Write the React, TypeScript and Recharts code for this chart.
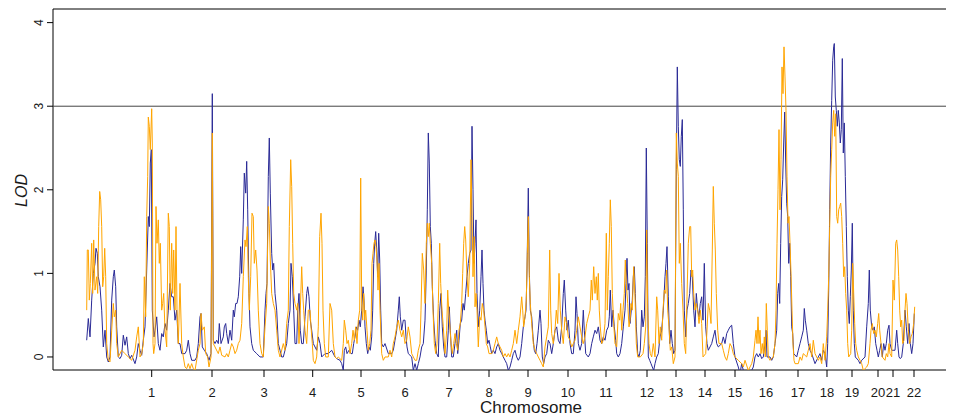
import React from 'react';
import { LineChart, Line, XAxis, YAxis, ReferenceLine, ReferenceArea } from 'recharts';

// chromosome labels and their mid positions along the genome axis
const CHR_LABELS = ['1', '2', '3', '4', '5', '6', '7', '8', '9', '10', '11', '12', '13', '14', '15', '16', '17', '18', '19', '20', '21', '22'];
const CHR_MID = [98.7, 159, 211, 259.7, 308, 352, 396, 436, 475, 515, 553, 594, 623, 652, 682, 713, 745, 774, 799, 825, 840, 861];
const LOD_TICKS = [0, 1, 2, 3, 4];
const THRESHOLD = 3;

// [genome position, LOD]
const blueLod: [number, number][] = [
  [33.7, 0.2], [35.3, 0.46], [37, 0.24], [38.7, 0.68], [40.3, 1.0], [42, 1.12], [43, 1.3], [44.3, 1.24], [45.3, 0.96], [47, 0.84],
  [48.7, 0.56], [50.3, 0.12], [52, 0.32], [53.7, 0.0], [55.3, -0.06], [57, 0.0], [58.7, 0.68], [60.3, 0.96], [61.3, 1.04], [62.7, 0.84],
  [63.7, 0.36], [65.3, 0.0], [67, -0.02], [68.7, 0.02], [70.3, 0.26], [72, 0.14], [73.7, 0.24], [75.3, 0.04], [77, -0.02], [78.7, 0.02],
  [82, -0.08], [83.7, 0.0], [85.3, 0.16], [87, 0.08], [88.7, 0.02], [90.3, 0.2], [92, 0.36], [93.7, 1.04], [95.3, 1.68], [96.3, 1.56],
  [97.3, 2.32], [98.3, 2.48], [99.3, 0.56], [101, 0.24], [102, 0.32], [103.7, 0.48], [105.3, 0.16], [107, 0.08], [108.7, 0.28], [110.3, 0.24],
  [112, 0.4], [113.7, 0.32], [115.3, 0.56], [117, 0.88], [118.7, 0.72], [120.3, 0.72], [122, 0.44], [123.7, 0.56], [125.3, 0.16], [127, 0.16],
  [128.7, 0.04], [132, 0.04], [133.7, 0.08], [135.3, 0.2], [137, 0.04], [138.7, -0.04], [142, -0.04],
  [143.7, 0.0], [145.3, 0.16], [147, 0.48], [148, 0.52], [149.3, 0.12], [151.3, 0.08], [153.7, 0.04], [156, -0.04], [158, 0.04], [159.3, 3.15],
  [160.3, 0.2], [162, 0.16], [163.7, 0.2], [165.3, 0.16], [166.3, 0.4], [168, 0.16], [170.3, 0.24], [171.3, 0.36], [172.7, 0.4], [173.7, 0.28],
  [175.3, 0.16], [177, 0.32], [178.7, 0.2], [180.3, 0.56], [181.3, 0.48], [182.7, 0.64], [184, 0.64], [185.3, 0.72], [186.7, 0.96], [187.7, 1.32],
  [188.7, 1.0], [190.3, 1.64], [191.3, 2.2], [192.7, 1.96], [193.7, 2.34], [194.7, 1.76], [196, 0.76], [197, 0.36], [198.7, 0.16], [200.3, 0.08],
  [203.7, 0.04], [207, 0.0], [210.3, 0.0], [212, 0.56], [213, 0.76], [214, 0.88], [215.3, 2.16], [216.3, 2.62], [217.3, 1.96], [218.7, 1.24],
  [219.7, 1.04], [220.7, 1.12], [222, 0.76], [223.7, 0.56], [225.3, 0.16], [227, 0.08], [228.7, 0.0], [230.3, 0.0], [232, 0.08], [233.7, 0.16],
  [235.3, 0.4], [237, 0.56], [238, 1.12], [239.3, 0.96], [240.7, 0.56], [242, 0.16], [243.7, 0.16], [244.7, 0.56], [246, 0.76], [247.3, 0.32],
  [248.7, 0.16], [250.3, 0.16], [252, 0.48], [253.7, 0.76], [254.7, 0.84], [256, 0.72], [257.3, 0.44], [258.7, 0.32], [260.3, 0.16], [263.7, 0.08],
  [265.3, 0.24], [267, 0.16], [268.7, 0.0], [272, 0.04], [275.3, 0.04], [278.7, 0.08], [282, 0.0],
  [283.7, -0.02], [287, -0.04], [288.7, -0.08], [290.3, -0.16], [291.3, 0.08], [292.7, 0.12], [294, 0.04], [296, 0.08], [298, 0.04], [299.3, 0.04],
  [300.7, 0.16], [302, 0.24], [303.3, 0.36], [304.7, 0.32], [306, 0.44], [307.3, 0.36], [308.7, 0.56], [310, 0.84], [311, 0.68], [312, 0.36],
  [313.3, 0.16], [314.7, 0.04], [316, 0.12], [317.3, 0.08], [318.7, 0.24], [319.7, 0.56], [320.7, 1.12], [321.7, 1.36], [322.7, 1.5], [323.7, 1.28],
  [324.7, 0.96], [325.7, 1.48], [326.7, 1.16], [327.7, 0.56], [328.7, 0.16], [330.3, 0.12], [332, 0.16], [335.3, 0.04], [338.7, 0.04], [340.3, 0.08],
  [342, 0.2], [343.7, 0.32], [345.3, 0.56], [346.3, 0.72], [347.3, 0.48], [348.7, 0.32], [350.3, 0.44], [352, 0.44], [353, 0.24], [354, 0.12],
  [355.3, 0.04], [358.7, 0.0], [360.3, -0.16], [362, -0.08], [363.7, -0.16], [365.3, -0.08], [367, 0.0], [368.7, 0.12], [370.3, 0.16], [372, 0.44],
  [373.3, 1.04], [374.3, 1.76], [375.3, 2.68], [376.3, 2.32], [377.3, 1.56], [378.3, 1.36], [379.3, 0.84], [380.7, 0.44], [382, 0.2], [383.7, 0.04],
  [385.3, 0.0], [386.7, 0.56], [388, 0.76], [389.3, 0.36], [390.7, 0.12], [392, 0.0], [393.7, 0.0], [395.3, 0.32], [396.3, 0.6], [397.3, 0.32],
  [398.7, 0.0], [400.3, 0.0], [402, 0.16], [403.7, 0.32], [404.7, 0.04], [406, 0.2], [407.3, 0.4], [408.7, 0.44], [410, 0.64], [411.3, 0.56],
  [412.7, 0.76], [414, 0.96], [415.3, 1.12], [416.7, 1.24], [418, 1.28], [419, 2.76], [420, 2.0], [421, 1.12], [422, 1.36],
  [423, 1.64], [424, 0.76], [425.3, 0.36], [426.7, 0.56], [428, 0.96], [429, 1.28], [430, 0.88], [431, 0.56], [432, 0.44], [433.3, 0.32],
  [434.7, 0.16], [436, 0.2], [437.3, 0.12], [438.7, 0.04], [440.3, 0.08], [442, 0.04], [443.7, 0.12], [445.3, 0.16], [447, 0.08], [448.7, 0.04],
  [450.3, 0.0], [452, -0.04], [453.7, -0.08], [455.3, -0.16], [457, -0.12], [458.7, -0.04], [460.3, 0.04], [462, 0.08], [463.7, 0.0], [465.3, -0.04],
  [467, 0.0], [468.7, 0.16], [470.3, 0.36], [472, 0.48], [473, 0.56], [474, 1.04], [475.3, 2.02], [476.3, 1.04], [477.3, 0.56], [478.7, 0.48],
  [480, 0.24], [481.3, 0.08], [482.7, 0.04], [484, 0.16], [485.3, 0.32], [487, 0.56], [488, 0.4], [489.3, 0.0], [490.7, -0.08], [492, 0.0],
  [493.7, 0.04], [495.3, 0.2], [497, 0.16], [498.7, 0.04], [500.3, 0.16], [502, 0.32], [503.7, 0.36], [505.3, 0.2], [507, 0.16], [508.7, 0.36],
  [510.3, 0.76], [511.3, 0.92], [512.7, 0.56], [514, 0.32], [515.3, 0.44], [517, 0.16], [518.7, 0.04], [520.3, 0.04], [522, 0.32], [523, 0.72],
  [524, 0.52], [525.3, 0.16], [527, 0.08], [528.7, 0.16], [530.3, 0.56], [531.3, 0.32], [532.7, 0.04], [535.3, 0.0], [537, 0.04], [538.7, 0.16],
  [540.3, 0.24], [542, 0.32], [543.7, 0.28], [545.3, 0.36], [547, 0.2], [548.7, 0.16], [550.3, 0.24], [552, 0.2], [553.7, 0.32], [555.3, 0.36],
  [556.3, 0.48], [557.3, 0.8], [558.7, 0.36], [560, 0.56], [561.3, 0.36], [562.7, 0.2],
  [563.7, 0.04], [565.3, 0.0], [567, 0.04], [568.7, 0.16], [570.3, 0.36], [572, 0.56], [573, 0.88], [574, 1.18], [575, 0.8], [576, 0.88],
  [577, 0.4], [578.3, 0.56], [579.3, 0.68], [580.3, 0.96], [581.3, 1.08], [582.3, 0.76], [583.3, 0.36], [584.7, 0.04], [586, 0.0], [587.3, 0.08],
  [588.7, 0.56], [590, 0.36], [591.3, 0.48], [592.3, 0.96], [593.3, 2.5], [594.3, 1.36], [595.3, 0.0], [596.7, -0.04], [598, -0.08], [599.3, -0.12],
  [600.7, -0.16], [602, -0.08], [603.7, 0.0], [605.3, 0.04], [607, 0.24], [608.7, 0.32], [610.3, 0.56], [612, 0.96], [613, 1.12], [614, 1.32],
  [615.3, 0.72], [616.7, 0.16], [618, 0.32], [619.3, 0.16], [620.7, 0.04], [622, 0.08], [623.3, 2.24], [624.3, 3.47], [625.3, 2.76], [626.3, 2.36],
  [627.3, 2.28], [628.3, 2.64], [629.3, 2.84], [630.3, 1.76], [631.3, 0.56], [632.7, 0.24], [634, 0.56], [635.3, 0.64], [636.7, 0.76], [638, 1.04],
  [639.3, 0.96], [640.7, 0.56], [642, 0.36], [643.3, 0.76], [644.7, 0.56], [646, 0.48], [647.3, 0.64], [648.7, 0.72], [650, 0.44], [651.3, 1.12],
  [652.7, 0.36], [654, 0.16], [655.3, 0.08], [658.7, 0.16], [660.3, 0.24], [662, 0.32], [663.7, 0.16], [665.3, 0.12], [668.7, 0.16], [670.3, 0.24],
  [672, 0.16], [673.7, 0.28], [675.3, 0.32], [677, 0.36], [678.7, 0.38], [680.3, 0.16], [682, 0.0], [685.3, -0.12], [687, -0.2], [688.7, -0.08],
  [690.3, -0.16], [693.7, -0.2], [698.7, -0.16], [700.3, -0.12], [702, 0.0],
  [703.7, 0.04], [705.3, 0.0], [707, 0.04], [708.7, -0.02], [710.3, 0.0], [712, 0.16], [713, 0.32], [714, 0.0], [717, 0.0], [718.7, -0.04],
  [720.3, 0.0], [722, 0.16], [723.7, 0.32], [724.7, 0.76], [725.7, 0.88], [726.7, 0.64], [727.7, 1.36], [728.7, 1.92], [729.7, 2.12], [730.7, 2.56],
  [731.7, 2.93], [732.7, 2.32], [733.7, 1.84], [734.7, 1.68], [735.7, 1.12], [736.7, 1.36], [737.7, 0.96], [738.7, 0.36], [739.7, 0.28], [740.7, 0.04],
  [743.7, 0.0], [745.3, 0.08], [747, 0.16], [748.7, 0.24], [750.3, 0.32], [751.3, 0.58], [752.3, 0.44], [753.7, 0.32], [755.3, 0.16], [757, 0.08],
  [758.7, 0.04], [762, -0.08], [765.3, 0.0], [767, 0.04], [768.7, -0.04], [770.3, 0.08], [772, 0.04], [773.7, -0.12], [774.7, 0.16], [775.7, 0.8],
  [776.7, 1.76], [777.7, 2.56], [778.7, 3.07], [779.7, 3.55], [780.7, 3.71], [781.3, 3.75], [782.3, 3.11], [783.3, 2.95], [784.3, 2.76], [785.3, 2.95],
  [786.3, 2.8], [787.3, 2.56], [788.3, 2.72], [789.3, 3.57], [790.3, 2.44], [791.3, 2.8], [792.3, 2.16], [793.3, 1.56], [794.3, 0.96], [795.3, 0.56],
  [796.3, 0.4], [797.3, 0.72], [798.3, 1.04], [799.3, 1.6], [800.3, 0.56], [801.3, 0.16], [802.3, 0.0], [805.3, -0.04], [807, -0.08], [808.7, -0.04],
  [812, 0.0], [813.7, 0.36], [815.3, 0.64], [816.3, 1.04], [817.3, 0.56], [818.7, 0.36], [820, 0.32], [821.3, 0.36], [822.7, 0.16], [824, 0.08],
  [825.3, 0.0], [826.7, 0.08], [828, 0.16], [829.3, 0.0], [830.7, 0.16], [832, 0.08], [833.3, 0.16], [834.7, 0.32], [836, 0.38], [837, 0.16],
  [838.7, 0.08], [842, 0.08], [843.7, 0.32], [844.7, 0.16], [846, 0.0], [847.3, -0.02], [848.7, 0.0], [850.3, 0.16], [852, 0.56], [853.3, 0.36],
  [854.7, 0.16], [856, 0.4], [857.3, 0.16], [858.7, 0.04], [860, 0.16], [861.3, 0.52],
];

const orangeLod: [number, number][] = [
  [33.7, 0.56], [34.3, 1.28], [35.3, 1.28], [36.3, 0.68], [37.3, 0.88], [38.7, 1.36], [39.7, 0.76], [40.7, 1.4], [42, 0.8], [43.7, 0.96],
  [44.7, 0.76], [45.7, 1.56], [46.7, 1.98], [47.7, 1.88], [48.7, 1.56], [49.7, 0.84], [50.7, 0.96], [51.7, 1.3], [52.7, 0.96], [53.7, 0.16],
  [55.3, -0.04], [57, -0.06], [58.7, 0.32], [60.3, 0.64], [61.3, 0.48], [62.7, 0.56], [63.7, 0.16], [65.3, 0.0], [68.7, 0.08], [72, 0.04],
  [75.3, 0.0], [78.7, -0.04], [82, 0.08], [83.7, 0.24], [85.3, 0.36], [87, 0.0], [88.7, 0.04], [90.3, 0.16], [91.3, 0.96], [92.7, 0.48],
  [93.7, 1.68], [94.7, 2.16], [95.3, 2.87], [96.3, 2.76], [97.3, 2.48], [98.7, 2.97], [99.3, 2.56], [100, 0.16], [100.7, 0.04], [102, 0.16],
  [103, 1.8], [104, 1.36], [105.3, 1.64], [106.3, 1.12], [107.3, 1.36], [108.7, 0.56], [109.7, 0.64], [110.7, 0.76], [112, 0.32], [113.7, 0.12],
  [115.3, 1.72], [116.3, 1.56], [117.3, 0.56], [118.7, 1.36], [119.7, 0.76], [120.7, 1.28], [122, 0.56], [123, 1.56], [124, 0.56], [125.3, 0.16],
  [127, 0.88], [128.7, 0.16], [130.3, 0.0], [132, -0.12], [133.7, -0.14], [135.3, -0.08], [137, -0.14], [138.7, -0.08], [140.3, -0.14], [142, -0.16],
  [145.3, 0.08], [147, 0.16], [148, 0.52], [149.3, 0.32], [151.3, 0.36], [152.7, 0.04], [154.7, 0.0], [156, -0.12], [158, 0.0], [159.3, 2.68],
  [160.3, 0.16], [162, 0.12], [165.3, 0.04], [167, 0.12], [168.7, 0.02], [172, 0.0], [173.7, 0.04], [175.3, 0.0], [177, 0.08], [178.7, 0.16],
  [180.3, 0.12], [182, 0.04], [183.7, 0.08], [185.3, 0.16], [187, 0.2], [188.7, 0.4], [190.3, 0.96], [192, 1.4], [193, 1.32], [194.3, 1.56],
  [195.3, 0.96], [196.3, 0.56], [197.7, 0.96], [199, 1.72], [200.3, 1.68], [201.3, 1.12], [202.7, 1.28], [204, 1.04], [205.3, 0.56], [207, 0.16],
  [208.7, 0.04], [210.3, 0.0], [212, 0.36], [213.7, 0.64], [215.3, 1.8], [216.3, 1.6], [217.3, 1.16], [218.7, 0.76], [220.3, 0.64], [222, 0.56],
  [223.7, 0.32], [225.3, 0.08], [227, 0.0], [230.3, 0.16], [232, 0.08], [233.7, 0.4], [235.3, 0.56], [236.3, 1.56], [237.7, 2.36], [238.7, 2.04],
  [239.7, 1.36], [240.7, 0.76], [242, 0.64], [243.7, 0.56], [244.7, 0.64], [246, 0.16], [247.3, 0.56], [248.7, 1.08], [249.7, 0.76], [250.7, 0.56],
  [252, 0.32], [253.7, 0.16], [255.3, 0.56], [257, 0.56], [258, 0.36], [259.3, 0.16], [260.3, -0.04], [262, -0.08], [263.7, 0.0], [265.3, 0.36],
  [266.7, 1.44], [268, 1.72], [269, 1.36], [270, 0.56], [271.3, 0.16], [272.7, 0.0], [275.3, 0.0], [277, 0.64], [278.7, 0.56], [280.3, 0.16],
  [282, 0.0],
  [283.7, -0.02], [285.3, 0.0], [288.7, -0.04], [290.3, 0.16], [291.3, 0.44], [292.7, 0.32], [294, 0.16], [295.3, 0.2], [297, 0.04], [298.7, 0.16],
  [300, 0.32], [301.3, 0.2], [302.7, 0.36], [304, 0.16], [305.3, 0.44], [306.7, 0.56], [307.7, 2.14], [308.7, 0.64], [309.7, 0.44], [310.7, 0.76],
  [311.7, 0.44], [312.7, 0.56], [314, 0.32], [315.3, 0.08], [316.7, 0.16], [318, 0.32], [319, 1.12], [320, 1.24], [321, 1.36], [322, 1.4],
  [323, 1.32], [324, 1.16], [325, 0.8], [326, 1.12], [327, 0.56], [328.7, 0.04], [330.3, -0.04], [332, 0.0], [335.3, 0.0], [337, 0.08],
  [338.7, 0.0], [340.3, 0.16], [342, 0.24], [343.7, 0.36], [345.3, 0.44], [347, 0.32], [348.7, 0.24], [350.3, 0.32], [352, 0.16], [353.7, 0.2],
  [355.3, 0.36], [357, 0.24], [358.7, 0.04], [362, -0.04], [363.7, -0.04], [365.3, 0.08], [367, 0.16], [368, 0.56], [369.3, 1.24], [370.7, 1.04],
  [372, 0.64], [373.3, 1.36], [374.3, 1.6], [375.3, 1.44], [376.3, 1.6], [377.3, 1.36], [378.7, 1.12], [380, 0.56], [381.3, 0.16], [382.7, 0.04],
  [384, 0.16], [385.3, 0.64], [386.7, 1.36], [387.7, 0.88], [389, 0.56], [390.3, 0.36], [392, 0.04], [393.7, 0.32], [394.7, 0.8], [395.7, 0.56],
  [396.7, 0.4], [398, 0.16], [399.3, 0.04], [400.7, 0.16], [402, 0.28], [403.3, 0.16], [404.7, 0.08], [406, 0.32], [407.3, 0.4], [408.7, 0.64],
  [409.7, 1.0], [410.7, 1.36], [411.7, 1.56], [412.7, 1.4], [414, 0.96], [415.3, 0.72], [416.7, 1.12], [418, 2.36], [419, 1.68], [420, 0.96],
  [421.3, 1.44],
  [422, 0.6], [423, 0.76], [424, 0.56], [425.3, 0.12], [426.7, 0.48], [428, 0.44], [429.3, 0.64], [430.7, 0.56], [432, 0.36], [433.3, 0.16],
  [434.7, 0.12], [436, 0.04], [438.7, 0.04], [440.3, 0.08], [442, 0.16], [443.7, 0.24], [445.3, 0.16], [447, 0.12], [448.7, 0.08], [450.3, 0.0],
  [452, 0.04], [453.7, 0.0], [455.3, 0.04], [457, 0.0], [458.7, 0.08], [460.3, 0.16], [462, 0.32], [463.7, 0.16], [465.3, 0.32], [467, 0.48],
  [468.7, 0.72], [469.7, 0.56], [470.7, 0.36], [472, 0.48], [473.3, 0.68], [474.3, 1.24], [475.3, 1.68], [476.3, 0.96], [477.3, 0.64], [478.7, 0.4],
  [480.3, 0.16], [482, 0.08], [483.7, 0.04], [485.3, 0.0], [487, -0.04], [488.7, -0.08], [490.3, -0.12], [492, 0.12], [493.7, 0.24], [495.3, 0.36],
  [496.7, 1.28], [497.7, 0.56], [498.7, 0.28], [500.3, 0.16], [502, 0.32], [503.3, 0.56], [504.7, 0.4], [506, 1.0], [507.3, 0.56], [508.7, 0.32],
  [510.3, 0.16], [512, 0.48], [513.7, 0.4], [515.3, 0.24], [517, 0.2], [518.7, 0.12], [520.3, 0.16], [522, 0.2], [523.7, 0.32], [525.3, 0.48],
  [527, 0.36], [528.7, 0.24], [530.3, 0.16], [532, 0.24], [533.7, 0.4], [535.3, 0.48], [537, 0.56], [538.3, 0.92], [539.3, 0.68], [540.7, 1.08],
  [542, 0.76], [543.3, 0.96], [544.3, 0.68], [545.3, 1.0], [546.3, 0.56], [547.3, 0.36], [548.7, 0.16], [550.3, 0.2], [552, 0.4], [553.3, 1.48],
  [554.3, 0.56], [555.3, 0.96], [556.3, 1.36], [557.3, 1.88], [558.3, 1.56], [559.3, 0.76], [560.7, 0.4], [562, 0.16],
  [563.7, 0.12], [565.3, 0.52], [566.7, 0.44], [567.7, 0.64], [568.7, 0.32], [570, 0.56], [571.3, 0.76], [572.3, 1.16], [573.3, 0.88], [574.7, 0.64],
  [576, 0.36], [577, 0.44], [578, 0.64], [579.3, 0.56], [580.7, 1.08], [582, 0.72], [583.3, 0.16], [584.7, 0.0], [587.3, 0.0], [590, 0.04],
  [591.3, 0.16], [592.7, 0.36], [593.7, 1.52], [594.7, 0.56], [596, 0.16], [597.3, 0.04], [598.7, 0.0], [600.3, 0.16], [602, 0.0], [603.7, 0.72],
  [604.7, 0.56], [606, 0.16], [607.3, 0.36], [608.7, 0.2], [610, 0.56], [611.3, 0.8], [612.7, 0.76], [613.7, 1.04], [614.7, 0.56], [616, 0.36],
  [617.3, 0.08], [618.7, 0.12], [620.3, -0.08], [622, 0.0], [623.3, 2.68], [624.3, 2.32], [625.3, 2.16], [626.3, 1.12], [627.3, 1.36], [628.7, 0.88],
  [630, 0.56], [631.3, 0.16], [632.7, 0.04], [634, 0.72], [635.3, 1.36], [636.7, 1.56], [637.7, 1.56], [638.7, 0.96], [639.7, 1.04], [640.7, 0.76],
  [642, 0.56], [643.3, 0.64], [644.7, 0.56], [646, 0.4], [647.3, 0.56], [648.7, 0.4], [650, 0.0], [652.7, 0.04], [654, 0.32], [655.3, 0.64],
  [656.7, 0.56], [658, 0.4], [659.3, 1.28], [660.3, 2.04], [661.3, 1.6], [662.3, 1.28], [663.3, 0.76], [664.7, 0.32], [666, 0.16], [668.7, 0.16],
  [670.3, 0.08], [672, 0.0], [673.7, -0.04], [675.3, 0.04], [677, 0.16], [678.7, 0.12], [680.3, 0.04], [682, 0.0], [685.3, -0.04], [688.7, -0.08],
  [690.3, -0.12], [692, -0.04], [695.3, -0.16], [698.7, -0.08], [700.3, 0.0], [702, 0.2],
  [703, 0.32], [704, 0.16], [705, 0.48], [706, 0.16], [707, 0.32], [708, 0.04], [709.3, 0.16], [710.3, 0.04], [711.3, 0.24], [712.3, 0.0],
  [713.3, 0.64], [714.3, 0.32], [715.3, 0.0], [717, -0.04], [720.3, 0.0], [722, 0.16], [723, 0.56], [724, 1.36], [725, 2.0], [726, 2.72],
  [727, 1.76], [728, 2.36], [729, 3.47], [730, 3.15], [731, 3.71], [732, 3.35], [733, 2.95], [734, 2.16], [735, 1.6], [736, 1.68],
  [737, 1.36], [738, 1.0], [739, 0.56], [740, 0.16], [741, -0.04], [742, -0.08], [745.3, -0.08], [747, 0.0], [748.7, -0.04], [750.3, 0.04],
  [753.7, 0.0], [755.3, 0.08], [757, 0.16], [758.7, 0.0], [760.3, 0.2], [762, 0.04], [765.3, -0.04], [767, 0.0], [768.7, -0.08], [770.3, 0.16],
  [772, -0.04], [773.7, 0.24], [774.7, 0.56], [775.7, 0.96], [776.7, 1.56], [777.7, 2.16], [778.7, 2.48], [779.7, 2.8], [780.7, 2.95], [781.7, 2.64],
  [782.7, 2.91], [783.7, 1.68], [784.7, 1.6], [785.7, 1.76], [786.7, 1.8], [787.7, 1.84], [788.7, 1.68], [789.7, 1.36], [790.7, 0.96], [791.7, 1.08],
  [792.7, 0.76], [793.7, 0.56], [794.7, 0.16], [795.7, 0.0], [797.7, 0.04], [798.7, 0.32], [799.7, 1.12], [800.7, 0.76], [801.7, 0.4], [802.7, 0.16],
  [803.7, 0.08], [805.3, 0.0], [807, -0.04], [808.7, -0.08], [810.3, -0.16], [813.7, -0.12], [815.3, -0.08], [817, 0.16], [818, 0.32], [819.3, 0.4],
  [820.7, 0.28], [822, 0.32], [823.3, 0.24], [824.7, 0.4], [825.7, 0.52], [826.7, 0.32], [828, 0.16], [829.3, 0.0], [832, -0.04], [833.3, 0.04],
  [834.7, 0.0], [836, 0.16], [837, 0.04], [838.7, 0.0], [840, 0.92], [841.3, 0.68], [842.7, 1.36], [843.7, 1.4], [844.7, 1.28], [845.7, 0.96],
  [846.7, 0.56], [847.7, 0.36], [848.7, 0.44], [849.7, 0.16], [851, 0.2], [852, 0.56], [853, 0.76], [854, 0.64], [855.3, 0.32], [856.7, 0.16],
  [858, 0.24], [859.3, 0.28], [860.7, 0.4], [861.7, 0.6],
];

const blueData = blueLod.map(([pos, lod]) => ({ pos, lod }));
const orangeData = orangeLod.map(([pos, lod]) => ({ pos, lod }));

const W = 946;
const H = 412;
const X_MAX = 894;
const Y_MIN = -0.156;
const Y_MAX = 4.163;
const FONT = '"Liberation Sans", Arial, Helvetica, sans-serif';

function XTick(props: any) {
  const { x, y, payload } = props;
  const i = CHR_MID.indexOf(payload.value);
  return (
    <text x={x} y={y + 17.5} textAnchor="middle" fontSize={13} fill="#1a1a1a" fontFamily={FONT}>
      {CHR_LABELS[i]}
    </text>
  );
}

function YTick(props: any) {
  const { x, y, payload } = props;
  const bx = x - 1.5;
  return (
    <text x={bx} y={y} transform={`rotate(-90, ${bx}, ${y})`} textAnchor="middle" fontSize={12} fill="#1a1a1a" fontFamily={FONT}>
      {payload.value}
    </text>
  );
}

export default function App() {
  return (
    <div style={{ position: 'relative', width: W, height: H, fontFamily: FONT }}>
      <LineChart width={W} height={H} margin={{ top: 1, right: 7, bottom: 0, left: 0 }}>
        <XAxis
          dataKey="pos"
          type="number"
          domain={[0, X_MAX]}
          ticks={CHR_MID}
          interval={0}
          allowDataOverflow
          height={50}
          tickSize={7}
          axisLine={false}
          tickLine={{ stroke: '#000' }}
          tick={(p: any) => <XTick {...p} />}
        />
        <YAxis
          type="number"
          domain={[Y_MIN, Y_MAX]}
          ticks={LOD_TICKS}
          interval={0}
          allowDataOverflow
          width={45}
          tickSize={6}
          axisLine={false}
          tickLine={{ stroke: '#000' }}
          tick={(p: any) => <YTick {...p} />}
        />
        <ReferenceLine y={THRESHOLD} stroke="#444" strokeWidth={1} />
        <Line data={blueData} dataKey="lod" type="linear" stroke="#2a2a96" strokeWidth={1} dot={false} isAnimationActive={false} />
        <Line data={orangeData} dataKey="lod" type="linear" stroke="#ffa500" strokeWidth={1} dot={false} isAnimationActive={false} />
        <ReferenceArea x1={0} x2={X_MAX} y1={Y_MIN} y2={Y_MAX} fill="none" stroke="#000" strokeWidth={1} ifOverflow="visible" />
      </LineChart>
      <svg width={W} height={H} style={{ position: 'absolute', left: 0, top: 0, pointerEvents: 'none' }}>
        <text x={523} y={405} textAnchor="middle" fontSize={17} fill="#1a1a1a" fontFamily={FONT}>Chromosome</text>
        <text x={18.5} y={182.5} transform="rotate(-90, 18.5, 182.5)" textAnchor="middle" fontSize={16} fontStyle="italic" fill="#1a1a1a" fontFamily={FONT}>LOD</text>
      </svg>
    </div>
  );
}
